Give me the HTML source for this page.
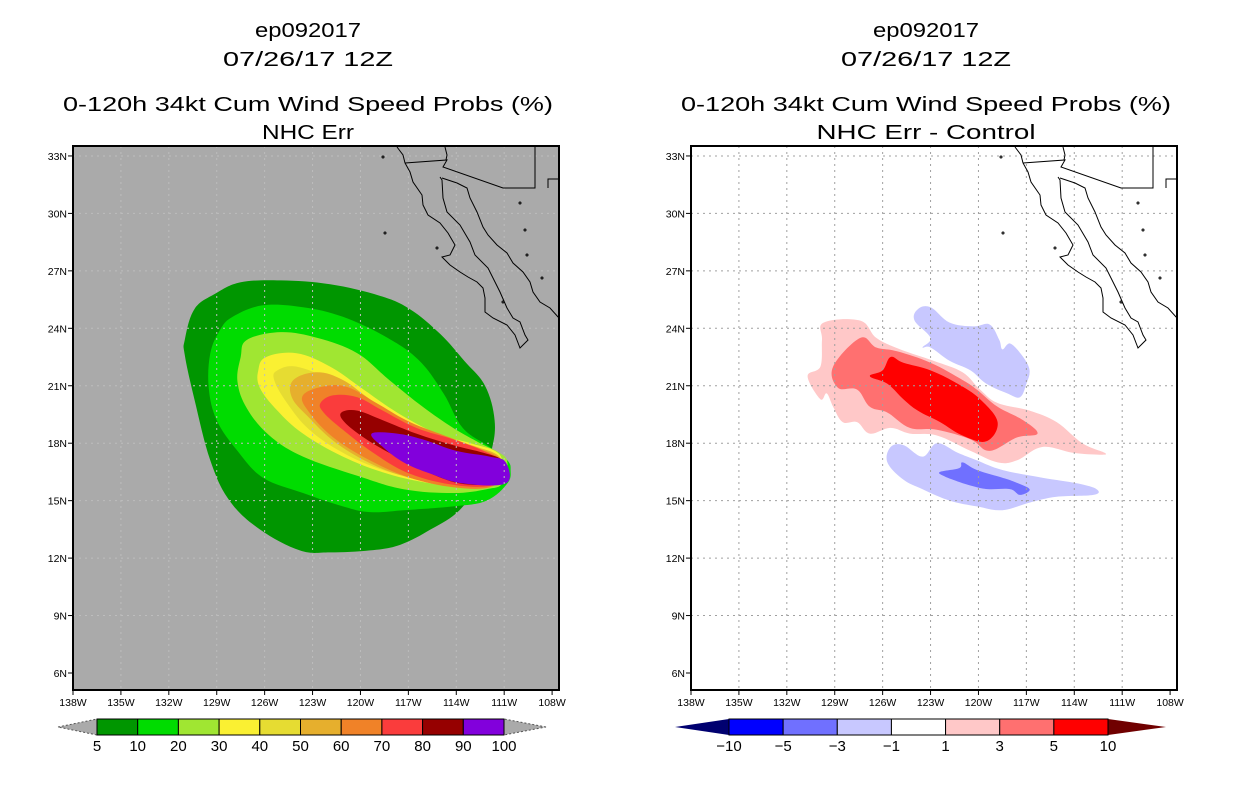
<!DOCTYPE html>
<html><head><meta charset="utf-8"><style>
html,body{margin:0;padding:0;background:#fff;}
svg{display:block;}
text{font-family:"Liberation Sans",sans-serif;fill:#000;}
</style></head><body>
<svg id="fig" width="1236" height="800" viewBox="0 0 1236 800" xmlns="http://www.w3.org/2000/svg">
<defs>
<clipPath id="clipL"><rect x="73" y="146" width="486" height="544"/></clipPath>
<clipPath id="clipR"><rect x="691" y="146" width="486" height="544"/></clipPath>
</defs>
</svg>
<script>
// ---- data ----
const lonTicks = [138,135,132,129,126,123,120,117,114,111,108];
const latTicks = [6,9,12,15,18,21,24,27,30,33];
const probLevels = [5,10,20,30,40,50,60,70,80,90,100];
const probColors = ["#009600","#00dc00","#a0e632","#faf032","#e6dc32","#e6af2d","#f08228","#fa3c3c","#960000","#8200dc"];
const diffLevels = [-10,-5,-3,-1,1,3,5,10];
const diffColors = ["#0000ff","#7070ff","#c8c8ff","#ffffff","#ffc8c8","#ff7070","#ff0000"];
const diffEnds = ["#000070","#700000"];
const prob5 = [[-127.5,26.4],[-125.0,26.5],[-121.9,26.3],[-118.8,25.7],[-116.9,25.0],[-115.0,23.7],[-113.5,22.3],[-112.2,21.0],[-111.6,19.2],[-111.8,17.6],[-112.5,16.1],[-113.8,14.5],[-115.6,13.5],[-117.5,12.7],[-119.4,12.4],[-121.9,12.3],[-123.8,12.4],[-126.3,13.5],[-128.2,15.0],[-129.4,17.1],[-130.4,20.3],[-131.0,22.6],[-131.0,23.4],[-130.4,25.0],[-129.1,25.8]];
const prob10 = [[-128.0,24.6],[-126.1,25.2],[-123.6,25.1],[-121.1,24.6],[-118.3,23.5],[-116.3,22.3],[-114.8,20.6],[-113.6,18.8],[-111.9,17.8],[-110.8,17.1],[-110.6,16.6],[-110.8,15.9],[-112.1,15.0],[-114.2,14.7],[-117.3,14.5],[-119.4,14.4],[-121.1,14.7],[-123.6,15.4],[-126.1,16.2],[-127.7,17.6],[-129.0,19.2],[-129.5,20.9],[-129.4,22.7],[-128.8,23.9]];
const prob20 = [[-127.1,23.4],[-125.0,23.8],[-122.7,23.5],[-120.2,22.7],[-118.2,21.3],[-116.1,19.9],[-114.2,18.8],[-112.5,18.0],[-111.3,17.5],[-110.8,17.0],[-111.1,15.9],[-112.1,15.6],[-114.2,15.4],[-117.3,15.6],[-120.2,16.3],[-123.6,17.3],[-125.7,18.4],[-127.1,19.8],[-127.7,21.2],[-127.5,22.5]];
const prob30 = [[-125.9,22.5],[-124.0,22.7],[-121.9,22.0],[-119.8,20.8],[-117.7,19.6],[-115.2,18.5],[-113.1,18.0],[-111.4,17.5],[-111.1,16.6],[-111.3,15.9],[-113.1,15.7],[-115.6,15.9],[-118.3,16.4],[-121.1,17.3],[-123.6,18.5],[-125.2,19.7],[-126.3,20.9],[-126.4,21.8]];
const prob40 = [[-125.2,21.8],[-124.0,22.0],[-121.9,21.3],[-120.2,20.3],[-118.3,19.2],[-115.6,18.3],[-113.1,17.8],[-111.4,17.3],[-111.1,16.4],[-111.3,15.9],[-113.1,15.7],[-116.1,16.1],[-118.6,16.6],[-121.1,17.5],[-123.2,18.7],[-124.6,20.1],[-125.4,21.3]];
const prob50 = [[-124.2,21.3],[-122.7,21.7],[-121.1,21.3],[-119.4,20.3],[-117.3,19.2],[-114.8,18.3],[-112.7,17.8],[-111.3,17.3],[-111.1,16.4],[-111.9,15.7],[-114.0,15.7],[-116.5,16.1],[-119.0,16.8],[-121.5,18.0],[-123.3,19.4],[-124.3,20.4]];
const prob60 = [[-123.6,20.5],[-122.1,21.0],[-120.7,20.9],[-119.0,20.1],[-116.9,19.1],[-114.4,18.3],[-112.5,17.7],[-111.3,17.2],[-111.1,16.4],[-111.9,15.7],[-114.2,15.7],[-116.9,16.2],[-119.4,17.1],[-121.7,18.3],[-123.2,19.6]];
const prob70 = [[-122.5,20.1],[-121.7,20.5],[-120.2,20.4],[-118.6,19.7],[-116.5,18.8],[-114.2,18.2],[-112.3,17.6],[-111.3,17.1],[-111.1,16.4],[-111.7,15.8],[-114.0,15.8],[-116.9,16.4],[-119.2,17.5],[-121.1,18.7],[-122.3,19.6]];
const prob80 = [[-121.2,19.6],[-120.2,19.7],[-118.6,19.2],[-116.5,18.5],[-114.2,17.9],[-112.3,17.5],[-111.1,17.1],[-111.1,16.4],[-111.7,15.9],[-113.8,15.9],[-116.1,16.6],[-118.2,17.5],[-119.8,18.3],[-121.0,19.1]];
const prob90 = [[-119.3,18.5],[-117.7,18.5],[-116.1,18.2],[-114.0,17.6],[-111.9,17.3],[-110.9,17.0],[-110.9,15.9],[-113.6,15.9],[-115.6,16.4],[-117.3,17.0],[-118.6,17.8]];
const diffPos1 = [[-129.7,24.3],[-127.4,24.4],[-126.4,23.5],[-124.9,22.9],[-122.8,22.3],[-121.0,21.7],[-119.9,20.8],[-118.8,20.1],[-116.8,19.7],[-115.1,19.1],[-113.5,18.0],[-112.1,17.5],[-112.4,17.4],[-114.1,17.5],[-116.0,17.8],[-117.6,17.1],[-118.8,17.0],[-120.5,17.6],[-122.6,18.4],[-124.3,18.5],[-125.5,18.8],[-126.8,18.5],[-127.6,19.1],[-128.5,19.1],[-129.1,19.9],[-129.5,20.6],[-129.9,20.3],[-130.7,21.5],[-129.9,22.0],[-129.8,23.4]];
const diffPos3 = [[-129.1,22.0],[-127.4,23.5],[-126.4,23.0],[-125.1,22.8],[-123.0,22.2],[-121.0,21.3],[-120.1,20.8],[-118.8,19.9],[-117.2,19.2],[-116.3,18.5],[-117.6,18.3],[-119.3,17.6],[-120.5,18.2],[-122.6,18.7],[-124.3,18.8],[-125.7,19.6],[-126.8,19.9],[-127.6,20.8],[-128.8,20.9]];
const diffPos5 = [[-126.8,21.5],[-126.0,21.8],[-125.5,22.5],[-124.7,22.2],[-123.0,21.8],[-121.3,21.1],[-119.9,20.3],[-118.8,19.1],[-119.5,18.1],[-121.0,18.4],[-122.4,19.1],[-123.8,19.7],[-124.7,20.3],[-125.7,21.1]];
const diffNeg1a = [[-123.8,25.0],[-123.0,25.1],[-121.8,24.3],[-120.3,24.1],[-119.3,24.2],[-118.7,23.4],[-118.5,22.9],[-118.0,23.2],[-117.2,22.5],[-116.8,21.8],[-117.0,21.1],[-117.4,20.4],[-118.2,20.6],[-119.5,21.1],[-120.5,21.8],[-121.8,22.3],[-123.0,23.0],[-123.5,23.0],[-123.0,23.5],[-124.0,24.4]];
const diffNeg1b = [[-125.5,17.8],[-124.7,17.9],[-123.5,17.3],[-122.6,18.0],[-121.3,17.5],[-120.1,17.1],[-118.5,16.6],[-116.0,16.2],[-113.8,15.9],[-112.6,15.6],[-112.8,15.3],[-115.1,15.2],[-116.8,14.9],[-118.5,14.5],[-120.1,14.7],[-121.8,15.0],[-123.5,15.6],[-124.7,16.1],[-125.7,17.0]];
const diffNeg3 = [[-122.4,16.5],[-121.2,16.7],[-121.0,17.0],[-120.1,16.6],[-118.5,16.2],[-117.8,16.0],[-116.8,15.6],[-117.4,15.3],[-118.0,15.6],[-119.3,15.6],[-120.1,15.7],[-121.3,16.0],[-122.2,16.3]];

const svg = document.getElementById('fig');
const NS = 'http://www.w3.org/2000/svg';
const X0 = 73, PXDEG = 15.97, Y6 = 673, PYDEG = 19.15;
function xs(lonW, off){ return off + X0 + (lonW + 138) * PXDEG; }
function ys(lat){ return Y6 - (lat - 6) * PYDEG; }
function mk(tag, attrs, parent){
  const e = document.createElementNS(NS, tag);
  for (const k in attrs) e.setAttribute(k, attrs[k]);
  (parent || svg).appendChild(e);
  return e;
}
function txt(s, x, y, size, anchor, parent, tl){
  const t = mk('text', {x:x, y:y, 'font-size':size, 'text-anchor':anchor||'middle'}, parent);
  if (tl) { t.setAttribute('textLength', tl); t.setAttribute('lengthAdjust','spacingAndGlyphs'); }
  t.textContent = s;
  return t;
}
function smoothPath(arr, off){
  const p = arr.map(q => [xs(q[0], off), ys(q[1])]);
  const n = p.length;
  let d = 'M' + p[0][0].toFixed(1) + ',' + p[0][1].toFixed(1);
  const k = 0.18;
  for (let i = 0; i < n; i++){
    const p0 = p[(i-1+n)%n], p1 = p[i], p2 = p[(i+1)%n], p3 = p[(i+2)%n];
    const c1 = [p1[0] + (p2[0]-p0[0])*k, p1[1] + (p2[1]-p0[1])*k];
    const c2 = [p2[0] - (p3[0]-p1[0])*k, p2[1] - (p3[1]-p1[1])*k];
    d += 'C' + c1[0].toFixed(1)+','+c1[1].toFixed(1)+' '+c2[0].toFixed(1)+','+c2[1].toFixed(1)+' '+p2[0].toFixed(1)+','+p2[1].toFixed(1);
  }
  return d + 'Z';
}

const coastW = "397,147 403,155 405,163 410,172 413,182 422,195 423,205 428,215 440,223 448,233 455,245 450,255 442,257 450,265 460,272 468,277 477,282 483,288 485,298 485,312 493,318 507,325 515,335 520,348 528,340 525,335 520,322 513,318 507,308 500,292 493,278 488,268 475,255 470,242 460,225 447,212 443,198 442,180 440,177";
const coastE = "442,178 457,183 467,188 470,198 477,212 483,227 488,235 497,245 507,253 513,263 523,272 530,282 533,292 540,302 550,308 559,318";
const border1 = "405,163 447,160 443,167 503,188 535,188 535,147";
const border2 = "548,188 548,179 559,179";
const colorado = "445,147 447,155 446,160";

function drawPanel(off, titleLast, tl4, isProb){
  const g = mk('g', {});
  
  
  const cx = 308 + off;
  const titles = [["ep092017",37,106],["07/26/17 12Z",66,170],["0-120h 34kt Cum Wind Speed Probs (%)",111,490],[titleLast,139,tl4]];
  titles.forEach((t,i)=>{
    const e = txt(t[0], cx, t[1], 20, 'middle', g, t[2]);
    
    
  });
  const bg = mk('rect', {x:73+off, y:146, width:486, height:544, fill: isProb ? '#aaaaaa' : '#ffffff'}, g);
  
  
  const clip = mk('g', {'clip-path': isProb ? 'url(#clipL)' : 'url(#clipR)'}, g);
  
  
  if (isProb){
    const polys = [prob5,prob10,prob20,prob30,prob40,prob50,prob60,prob70,prob80,prob90];
    polys.forEach((p,i)=>{
      const e = mk('path', {d: smoothPath(p, off), fill: probColors[i]}, clip);
      
      
    });
  } else {
    const polys = [[diffPos1,'#ffc8c8','diff-contour-pos1'],[diffPos3,'#ff7070','diff-contour-pos3'],[diffPos5,'#ff0000','diff-contour-pos5'],[diffNeg1a,'#c8c8ff','diff-contour-neg1-north'],[diffNeg1b,'#c8c8ff','diff-contour-neg1-south'],[diffNeg3,'#7070ff','diff-contour-neg3']];
    polys.forEach(p=>{
      const e = mk('path', {d: smoothPath(p[0], off), fill: p[1]}, clip);
      
      
    });
  }
  const grid = mk('g', {stroke: isProb ? '#bdbdbd' : '#a0a0a0', 'stroke-width':1, 'stroke-dasharray':'2,4'}, clip);
  
  
  lonTicks.slice(1,-1).forEach(l=>{ const x = xs(-l, off); mk('line', {x1:x, x2:x, y1:146, y2:690}, grid); });
  latTicks.slice(1).forEach(l=>{ const y = ys(l); mk('line', {x1:73+off, x2:559+off, y1:y, y2:y}, grid); });
  const cg = mk('g', {transform:'translate(' + off + ',0)', fill:'none', stroke:'#000', 'stroke-width':1}, clip);
  
  
  [coastW, coastE, border1, border2, colorado].forEach(p => mk('polyline', {points:p}, cg));
  [[383,157],[385,233],[437,248],[525,230],[527,255],[542,278],[520,203],[503,302]].forEach(d => mk('circle',{cx:d[0],cy:d[1],r:1,fill:'none'},cg));
  const fr = mk('rect', {x:73+off, y:146, width:486, height:544, fill:'none', stroke:'#000', 'stroke-width':2}, g);
  
  
  lonTicks.forEach(l=>{
    const x = xs(-l, off);
    mk('line', {x1:x, x2:x, y1:690, y2:695, stroke:'#000'}, g);
    const t = txt(l + 'W', x, 706, 10.5, 'middle', g);
    
    
  });
  latTicks.forEach(l=>{
    const y = ys(l);
    mk('line', {x1:68+off, x2:73+off, y1:y, y2:y, stroke:'#000'}, g);
    const t = txt(l + 'N', 67+off, y+4, 10.5, 'end', g);
    
    
  });
}
drawPanel(0, "NHC Err", 92, true);
drawPanel(618, "NHC Err - Control", 219, false);

function colorbar(x0, x1, tipL, tipR, colors, labels, endFill, name){
  const g = mk('g', {});
  
  
  const y0 = 719, y1 = 735, ym = 727;
  const lt = mk('polygon', {points: tipL+','+ym+' '+x0+','+y0+' '+x0+','+y1, fill:endFill[0], stroke: endFill[2]||'none', 'stroke-dasharray':'2,2'}, g);
  
  
  const rt = mk('polygon', {points: tipR+','+ym+' '+x1+','+y0+' '+x1+','+y1, fill:endFill[1], stroke: endFill[2]||'none', 'stroke-dasharray':'2,2'}, g);
  
  
  const w = (x1 - x0) / colors.length;
  colors.forEach((c,i)=>{
    const r = mk('rect', {x:x0+i*w, y:y0, width:w, height:y1-y0, fill:c, stroke:'#000', 'stroke-width':1}, g);
    
    
  });
  labels.forEach((l,i)=>{
    const s = String(l).replace('-', '\u2212');
    const t = txt(s, x0+i*w, 751, 15, 'middle', g);
    
    
  });
}
colorbar(97, 504, 58, 546, probColors, probLevels, ['#aaaaaa','#aaaaaa','#555'], 'prob-colorbar');
colorbar(729, 1108, 675, 1166, diffColors, diffLevels, diffEnds, 'diff-colorbar');
</script>
</body></html>
